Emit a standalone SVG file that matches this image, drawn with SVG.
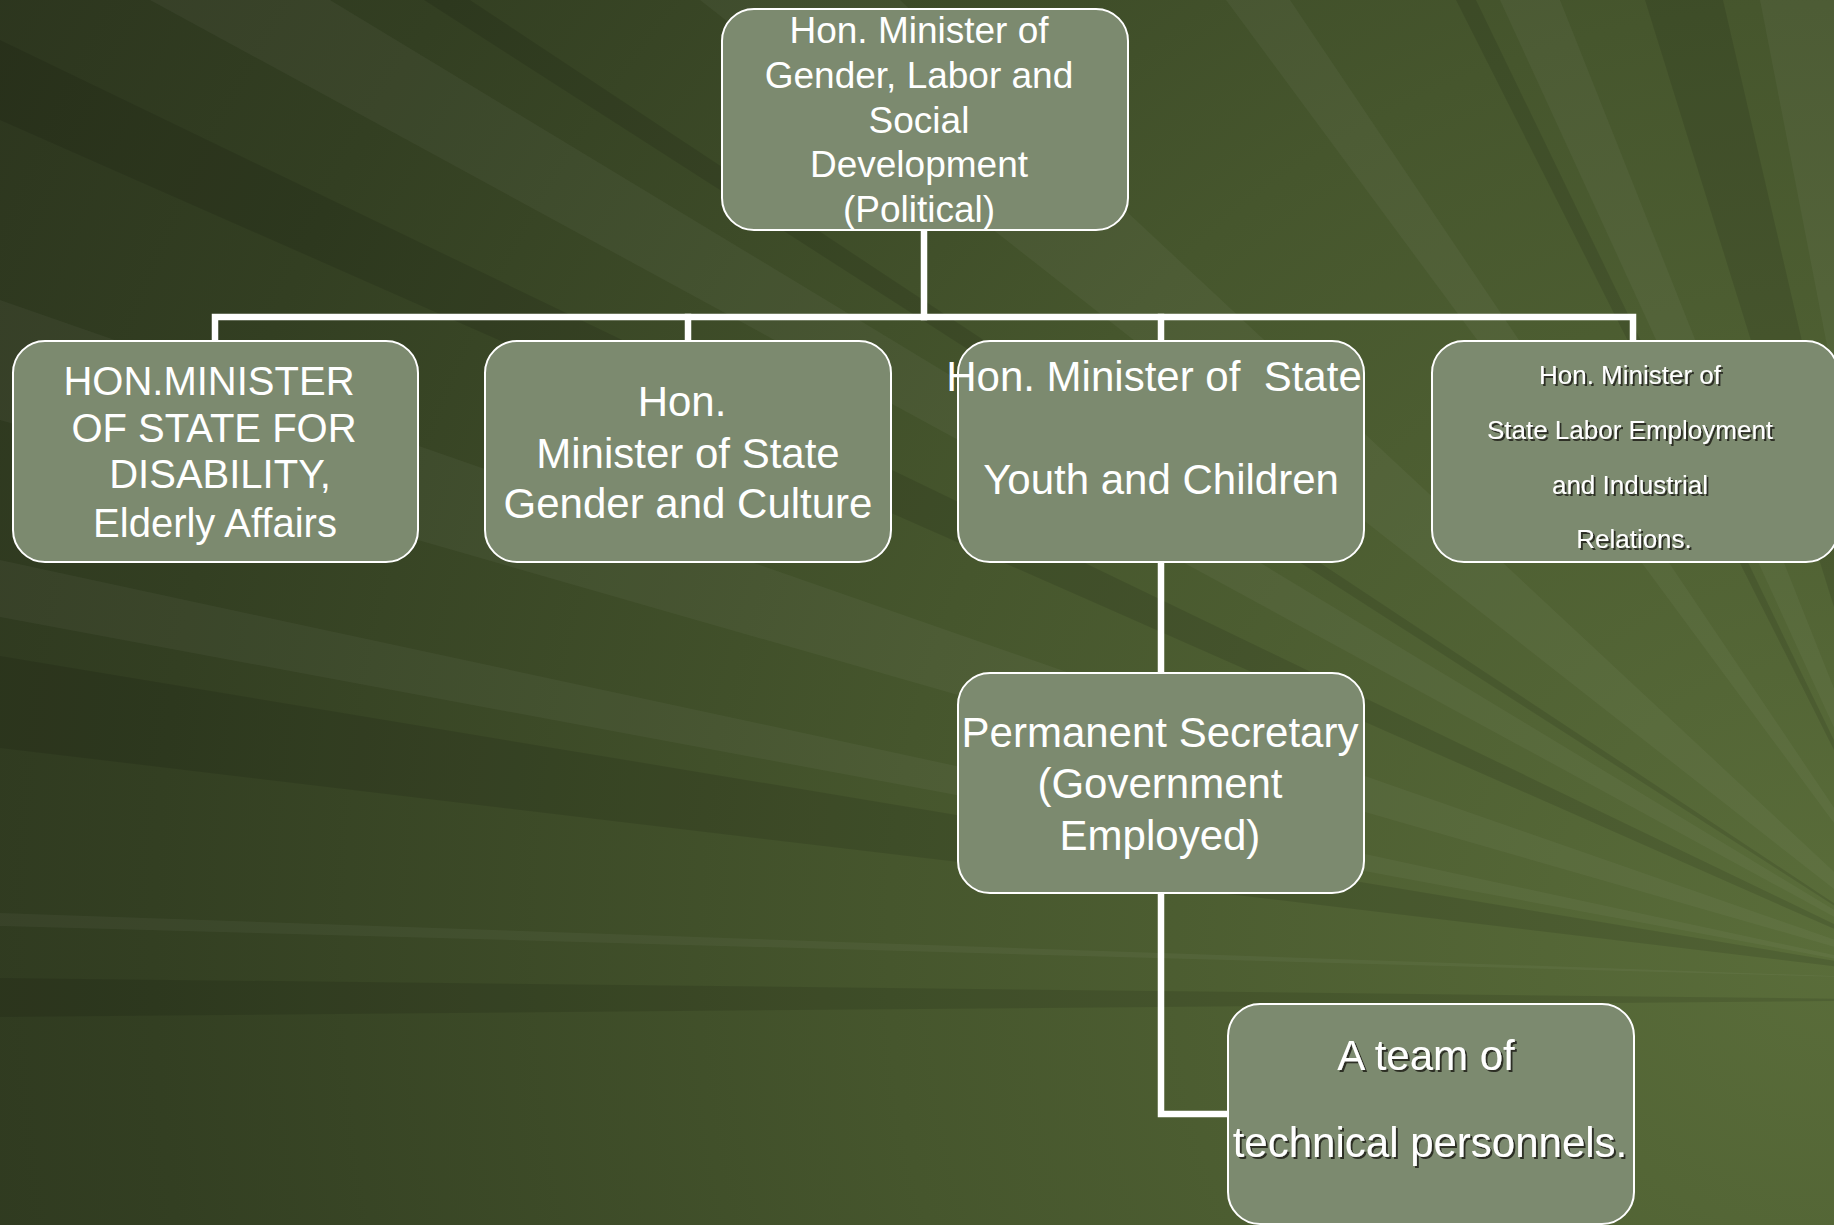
<svg xmlns="http://www.w3.org/2000/svg" width="1834" height="1225" viewBox="0 0 1834 1225">
  <defs>
    <radialGradient id="bg" cx="1834" cy="950" r="2100" gradientUnits="userSpaceOnUse">
      <stop offset="0" stop-color="#5a6d3a"/>
      <stop offset="0.45" stop-color="#46562d"/>
      <stop offset="0.8" stop-color="#333f22"/>
      <stop offset="1" stop-color="#2c351e"/>
    </radialGradient>
    <filter id="shadow" x="-10%" y="-10%" width="120%" height="130%">
      <feDropShadow dx="2" dy="2" stdDeviation="0.6" flood-color="#1e2414" flood-opacity="0.85"/>
    </filter>
    <style>
      .box { fill: #7c8a6f; stroke: #ffffff; stroke-width: 2; }
      .lbl { fill: #ffffff; font-family: "Liberation Sans", Arial, sans-serif; text-anchor: middle; }
      .conn { fill: none; stroke: #ffffff; stroke-width: 6.5; stroke-linejoin: miter; stroke-linecap: square; }
      .lr { fill: #ffffff; opacity: 0.04; }
      .dr { fill: #000000; opacity: 0.1; }
    </style>
  </defs>

  <g id="background">
    <rect x="0" y="0" width="1834" height="1225" fill="url(#bg)"/>
    <polygon class="lr" points="1950,980 150,0 330,0"/>
    <polygon class="dr" points="1950,980 424,0 470,0"/>
    <polygon class="lr" points="1950,980 700,0 900,0"/>
    <polygon class="lr" points="1950,980 1226,0 1290,0"/>
    <polygon class="dr" points="1950,980 1456,0 1476,0"/>
    <polygon class="lr" points="1950,980 1500,0 1560,0"/>
    <polygon class="dr" points="1950,980 1645,0 1723,0"/>
    <polygon class="lr" points="1950,980 1760,0 1834,0"/>
    <polygon class="dr" points="1950,980 0,40 0,120"/>
    <polygon class="lr" points="1950,980 0,300 0,420"/>
    <polygon class="lr" points="1950,980 0,560 0,617"/>
    <polygon class="dr" points="1950,980 0,656 0,748"/>
    <polygon class="lr" points="1950,980 0,913 0,926"/>
    <polygon class="dr" points="1950,1000 0,978 0,1017"/>
  </g>

  <g id="connectors">
    <path class="conn" d="M924,230 V317"/>
    <path class="conn" d="M215,341 V317 H1633 V341"/>
    <path class="conn" d="M688,317 V341"/>
    <path class="conn" d="M1161,317 V341"/>
    <path class="conn" d="M1161,562 V673"/>
    <path class="conn" d="M1161,893 V1114 H1228"/>
  </g>

  <g id="node-minister">
    <rect class="box" x="722" y="9" width="406" height="221" rx="32" ry="32"/>
    <text class="lbl" font-size="37"><tspan x="919" y="43">Hon. Minister of</tspan><tspan x="919" y="88">Gender, Labor and</tspan><tspan x="919" y="133">Social</tspan><tspan x="919" y="177">Development</tspan><tspan x="919" y="222">(Political)</tspan></text>
  </g>

  <g id="node-disability">
    <rect class="box" x="13" y="341" width="405" height="221" rx="32" ry="32"/>
    <text class="lbl" font-size="40"><tspan x="209" y="395">HON.MINISTER</tspan><tspan x="214" y="442">OF STATE FOR</tspan><tspan x="220" y="488">DISABILITY,</tspan><tspan x="215" y="537">Elderly Affairs</tspan></text>
  </g>

  <g id="node-gender">
    <rect class="box" x="485" y="341" width="406" height="221" rx="32" ry="32"/>
    <text class="lbl" font-size="42"><tspan x="682" y="416">Hon.</tspan><tspan x="688" y="468">Minister of State</tspan><tspan x="688" y="518">Gender and Culture</tspan></text>
  </g>

  <g id="node-youth">
    <rect class="box" x="958" y="341" width="406" height="221" rx="32" ry="32"/>
    <text class="lbl" font-size="42" xml:space="preserve"><tspan x="1154" y="391">Hon. Minister of  State</tspan><tspan x="1161" y="494">Youth and Children</tspan></text>
  </g>

  <g id="node-labor">
    <rect class="box" x="1432" y="341" width="406" height="221" rx="32" ry="32"/>
    <text class="lbl" font-size="26" filter="url(#shadow)"><tspan x="1630" y="384">Hon. Minister of</tspan><tspan x="1630" y="439">State Labor Employment</tspan><tspan x="1630" y="494">and Industrial</tspan><tspan x="1634" y="548">Relations.</tspan></text>
  </g>

  <g id="node-secretary">
    <rect class="box" x="958" y="673" width="406" height="220" rx="32" ry="32"/>
    <text class="lbl" font-size="42"><tspan x="1160" y="747">Permanent Secretary</tspan><tspan x="1160" y="798">(Government</tspan><tspan x="1160" y="850">Employed)</tspan></text>
  </g>

  <g id="node-team">
    <rect class="box" x="1228" y="1004" width="406" height="220" rx="32" ry="32"/>
    <text class="lbl" font-size="42" filter="url(#shadow)"><tspan x="1426" y="1070">A team of</tspan><tspan x="1430" y="1157">technical personnels.</tspan></text>
  </g>
</svg>
